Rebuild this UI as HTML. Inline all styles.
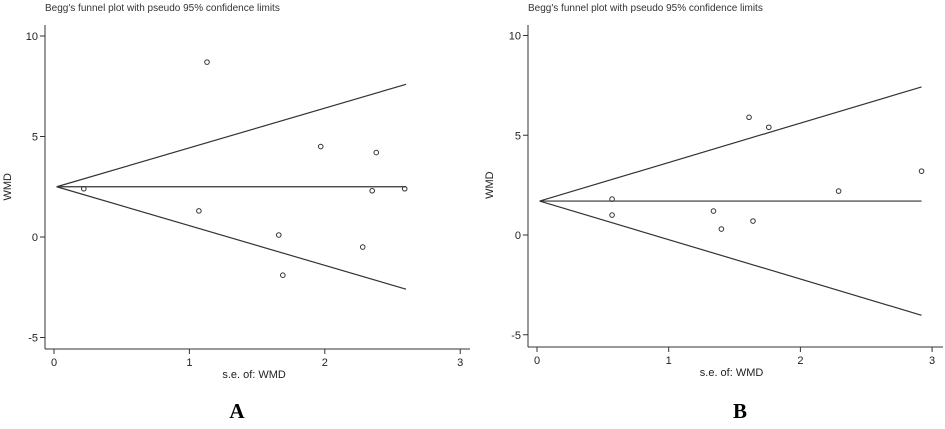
<!DOCTYPE html>
<html><head><meta charset="utf-8"><style>
body{margin:0;background:#fff;}
svg{display:block;font-family:"Liberation Sans",sans-serif;}
</style></head><body>
<svg id="c" width="945" height="429" viewBox="0 0 945 429"></svg>
<script>
const yTicks=[10,5,0,-5];
const xTicks=[0,1,2,3];
const seA=[0.22,1.13,1.07,1.66,1.69,1.97,2.38,2.35,2.28,2.59];
const wmdA=[2.4,8.7,1.3,0.1,-1.9,4.5,4.2,2.3,-0.5,2.4];
const pooledA=2.5, seMaxA=2.6;
const seB=[0.57,0.57,1.34,1.4,1.61,1.64,1.76,2.29,2.92];
const wmdB=[1.8,1.0,1.2,0.3,5.9,0.7,5.4,2.2,3.2];
const pooledB=1.7, seMaxB=2.92;
const NS='http://www.w3.org/2000/svg';
const svg=document.getElementById('c');
function el(t,a,p){const e=document.createElementNS(NS,t);for(const k in a)e.setAttribute(k,a[k]);(p||svg).appendChild(e);return e;}
function panel(P){
  const g=el('g',{});
  
  
  const sx=v=>P.x0+v*P.xu, sy=v=>P.y0-v*P.yu;
  const t=el('text',{x:P.ax,y:11,'font-size':10,fill:'#333'},g);t.textContent="Begg's funnel plot with pseudo 95% confidence limits";
  
  const ya=el('line',{x1:P.ax,y1:25,x2:P.ax,y2:P.axY,stroke:'#333','stroke-width':1},g);
  
  const xa=el('line',{x1:P.ax,y1:P.axY,x2:P.xEnd,y2:P.axY,stroke:'#333','stroke-width':1},g);
  
  yTicks.forEach(v=>{
    el('line',{x1:P.ax-5,y1:sy(v),x2:P.ax,y2:sy(v),stroke:'#333'},g);
    const tx=el('text',{x:P.ax-7,y:sy(v)+4,'font-size':11,'text-anchor':'end',fill:'#222'},g);tx.textContent=v;
    
  });
  xTicks.forEach(v=>{
    el('line',{x1:sx(v),y1:P.axY,x2:sx(v),y2:P.axY+5,stroke:'#333'},g);
    const tx=el('text',{x:sx(v),y:P.axY+17,'font-size':11,'text-anchor':'middle',fill:'#222'},g);tx.textContent=v;
    
  });
  const xl=el('text',{x:(sx(0)+sx(3))/2-3,y:P.axY+29,'font-size':11,'text-anchor':'middle',fill:'#222'},g);xl.textContent='s.e. of: WMD';
  
  const yl=el('text',{x:P.ylx,y:(sy(10)+sy(-5))/2,'font-size':11,'text-anchor':'middle',fill:'#222',transform:`rotate(-90 ${P.ylx} ${(sy(10)+sy(-5))/2})`},g);yl.textContent='WMD';
  
  const c=P.pooled,m=P.seMax;
  [[c,c],[c,c+1.96*m],[c,c-1.96*m]].forEach((l,i)=>{
    const ln=el('line',{x1:sx(0.02),y1:sy(l[0]),x2:sx(m),y2:sy(l[1]),stroke:'#333','stroke-width':1.2},g);
    
    
  });
  P.se.forEach((s,i)=>{
    const pt=el('circle',{cx:sx(s),cy:sy(P.wmd[i]),r:2.3,fill:'none',stroke:'#333','stroke-width':1},g);
    
    
  });
  const L=el('text',{x:P.lx,y:418,'font-size':21,'font-weight':'bold','font-family':'"Liberation Serif",serif','text-anchor':'middle',fill:'#000'},g);L.textContent=P.id;
  
}
panel({id:'A',ax:45,axY:349,xEnd:470,x0:54,xu:135.4,y0:237,yu:20.1,ylx:11,lx:237,se:seA,wmd:wmdA,pooled:pooledA,seMax:seMaxA});
panel({id:'B',ax:528,axY:347,xEnd:943,x0:537,xu:131.7,y0:235,yu:19.95,ylx:493,lx:740,se:seB,wmd:wmdB,pooled:pooledB,seMax:seMaxB});
</script>
</body></html>
